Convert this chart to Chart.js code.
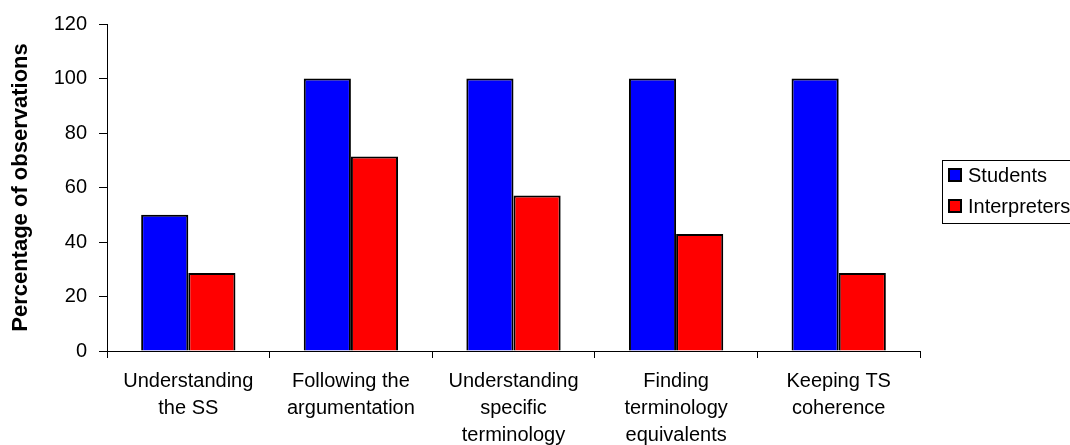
<!DOCTYPE html>
<html>
<head>
<meta charset="utf-8">
<script src="https://cdn.jsdelivr.net/npm/chart.js@4.4.1/dist/chart.umd.min.js"></script>
<style>
  html, body { margin: 0; padding: 0; background: #fff; overflow: hidden; }
  #wrap { width: 1070px; height: 445px; }
</style>
</head>
<body>
<div id="wrap"><canvas id="c" width="1070" height="445"></canvas></div>
<script>
// Categories (multi-line axis labels)
const categories = [
  ["Understanding", "the SS"],
  ["Following the", "argumentation"],
  ["Understanding", "specific", "terminology"],
  ["Finding", "terminology", "equivalents"],
  ["Keeping TS", "coherence"]
];
// Percentage of observations per group
const students = [50, 100, 100, 100, 100];
const interpreters = [28.6, 71.4, 57.1, 42.9, 28.6];
const seriesNames = ["Students", "Interpreters"];
const yTicks = [0, 20, 40, 60, 80, 100, 120];

const FONT = "Arial, 'Liberation Sans', sans-serif";

// Boxed legend at the right of the plot
const boxLegend = {
  id: 'boxLegend',
  afterDraw(chart) {
    const ctx = chart.ctx;
    const x = 942, y = 160, w = 140, h = 63;
    ctx.save();
    ctx.strokeStyle = '#000';
    ctx.lineWidth = 1;
    ctx.strokeRect(x + 0.5, y + 0.5, w, h);
    ctx.font = '20px ' + FONT;
    ctx.textBaseline = 'middle';
    chart.data.datasets.forEach((ds, i) => {
      const cy = 175 + i * 31;
      ctx.fillStyle = ds.backgroundColor;
      ctx.fillRect(949, cy - 6, 12, 12);
      ctx.strokeStyle = '#000';
      ctx.lineWidth = 2;
      ctx.strokeRect(949, cy - 6, 12, 12);
      ctx.fillStyle = '#000';
      ctx.fillText(ds.label, 968, cy + 1);
    });
    ctx.restore();
  }
};

new Chart(document.getElementById('c'), {
  type: 'bar',
  data: {
    labels: categories,
    datasets: [
      { label: seriesNames[0], data: students, backgroundColor: '#0000ff', borderColor: '#000', borderWidth: 2 },
      { label: seriesNames[1], data: interpreters, backgroundColor: '#ff0000', borderColor: '#000', borderWidth: 2 }
    ]
  },
  options: {
    responsive: false,
    animation: false,
    events: [],
    layout: { padding: { top: 14, right: 150, left: 8, bottom: 0 } },
    datasets: { bar: { categoryPercentage: 0.58, barPercentage: 1.0 } },
    plugins: {
      legend: { display: false },
      tooltip: { enabled: false }
    },
    scales: {
      x: {
        offset: true,
        grid: { display: true, offset: true, drawOnChartArea: false, tickLength: 7, color: '#000', tickColor: '#000' },
        border: { display: true, color: '#000', width: 1 },
        ticks: { color: '#000', font: { family: FONT, size: 20, lineHeight: 1.35 }, padding: 10, maxRotation: 0, autoSkip: false },
        afterFit(scale) { scale.height = 94; }
      },
      y: {
        min: 0, max: 120,
        afterBuildTicks(scale) { scale.ticks = yTicks.map(v => ({ value: v })); },
        grid: { display: true, drawOnChartArea: false, tickLength: 8, color: '#000', tickColor: '#000' },
        border: { display: true, color: '#000', width: 1 },
        ticks: { color: '#000', font: { family: FONT, size: 20 }, padding: 12 },
        title: { display: true, text: 'Percentage of observations', color: '#000', font: { family: FONT, size: 22, weight: 'bold' }, padding: { top: 0, bottom: 0 } },
        afterFit(scale) { scale.width = 99; }
      }
    }
  },
  plugins: [boxLegend]
});
</script>
</body>
</html>
